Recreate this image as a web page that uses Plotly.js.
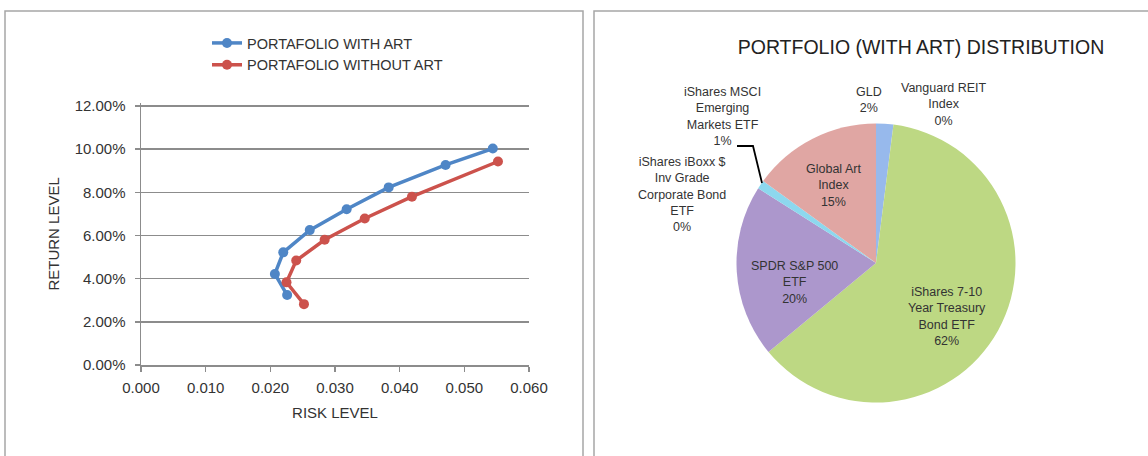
<!DOCTYPE html>
<html><head><meta charset="utf-8">
<script src="https://cdn.plot.ly/plotly-3.0.1.min.js"></script>
<style>html,body{margin:0;padding:0;background:#fff}#chart{width:1148px;height:456px}</style>
</head><body><div id="chart"></div>
<script>
// ---- data ----
const seriesNames = ['PORTAFOLIO WITH ART', 'PORTAFOLIO WITHOUT ART'];
const riskWithArt = [0.0226, 0.0207, 0.0220, 0.0261, 0.0318, 0.0383, 0.0471, 0.0544];
const returnWithArt = [0.0324, 0.0422, 0.0522, 0.0625, 0.0722, 0.0823, 0.0927, 0.1003];
const riskWithoutArt = [0.0252, 0.0225, 0.0240, 0.0284, 0.0346, 0.0419, 0.0552];
const returnWithoutArt = [0.0282, 0.0383, 0.0484, 0.0580, 0.0679, 0.0780, 0.0943];
const assetLabels = ['GLD', 'Vanguard REIT<br>Index', 'iShares 7-10<br>Year Treasury<br>Bond ETF', 'SPDR S&P 500<br>ETF',
  'iShares iBoxx &#36;<br>Inv Grade<br>Corporate Bond<br>ETF', 'iShares MSCI<br>Emerging<br>Markets ETF', 'Global Art<br>Index'];
const assetWeights = [2, 0, 62, 20, 0, 1, 15];
const pieTitle = 'PORTFOLIO (WITH ART) DISTRIBUTION';
const xTitle = 'RISK LEVEL';
const yTitle = 'RETURN LEVEL';

// ---- styling / layout helpers ----
const W = 1148, H = 456;
const px = x => x / W;
const py = y => 1 - y / H;
const FONT = 'Liberation Sans, Arial, sans-serif';
const TXT = '#333333';
const sliceColors = ['#97b9ec', '#d9837f', '#bdd883', '#ac97cc', '#8ed6ec', '#8dd8ee', '#e0a6a3'];
// label anchor points (pixels) for each slice's label
const labelPos = [[869, 100], [944, 104], [947, 316], [794, 282], [682, 194], [722, 117], [833, 185]];

const traces = [
  {type: 'scatter', mode: 'lines+markers', name: seriesNames[0], x: riskWithArt, y: returnWithArt,
   line: {color: '#4f86c6', width: 3.5}, marker: {color: '#4f86c6', size: 10}, xaxis: 'x', yaxis: 'y'},
  {type: 'scatter', mode: 'lines+markers', name: seriesNames[1], x: riskWithoutArt, y: returnWithoutArt,
   line: {color: '#cc524c', width: 3.5}, marker: {color: '#cc524c', size: 10}, xaxis: 'x', yaxis: 'y'},
  {type: 'pie', labels: assetLabels, values: assetWeights, sort: false, direction: 'clockwise', rotation: 0,
   showlegend: false, marker: {colors: sliceColors, line: {width: 0}},
   textinfo: 'none', hoverinfo: 'label+value',
   domain: {x: [px(876 - 139.5), px(876 + 139.5)], y: [py(263 + 139.5), py(263 - 139.5)]}}
];

const annotations = assetLabels.map((lab, i) => ({
  xref: 'paper', yref: 'paper', x: px(labelPos[i][0]), y: py(labelPos[i][1]), xanchor: 'center', yanchor: 'middle',
  showarrow: false, align: 'center', text: lab + '<br>' + assetWeights[i] + '%',
  font: {family: FONT, size: 12.5, color: TXT}
}));

const shapes = [
  {type: 'rect', xref: 'paper', yref: 'paper', x0: px(5), x1: px(583), y0: py(470), y1: py(11),
   line: {color: '#a6a6a6', width: 1.5}},
  {type: 'rect', xref: 'paper', yref: 'paper', x0: px(594), x1: px(1160), y0: py(470), y1: py(11),
   line: {color: '#a6a6a6', width: 1.5}},
  {type: 'path', xref: 'paper', yref: 'paper',
   path: `M ${px(737)},${py(146)} L ${px(753)},${py(146)} L ${px(762)},${py(183)}`,
   line: {color: '#000000', width: 1.8}}
];

const layout = {
  width: W, height: H, margin: {l: 0, r: 0, t: 0, b: 0},
  paper_bgcolor: '#ffffff', plot_bgcolor: '#ffffff',
  font: {family: FONT, color: TXT},
  title: {text: pieTitle, x: px(921), xref: 'paper', xanchor: 'center', y: py(47), yref: 'paper', yanchor: 'middle',
    font: {family: FONT, size: 19.5, color: '#222222'}},
  xaxis: {domain: [px(141), px(529)], range: [0, 0.06], dtick: 0.01, tickformat: '.3f',
    showgrid: false, zeroline: false, showline: true, linecolor: '#8c8c8c', linewidth: 1.5,
    ticks: 'outside', ticklen: 5, tickcolor: '#8c8c8c', tickwidth: 1.5, ticklabelstandoff: 3,
    tickfont: {family: FONT, size: 15, color: TXT},
    title: {text: xTitle, font: {family: FONT, size: 15, color: TXT}, standoff: 13}, fixedrange: true},
  yaxis: {domain: [py(365), py(102.8)], range: [0, 0.1215], tick0: 0, dtick: 0.02, tickformat: '.2%',
    showgrid: true, gridcolor: '#8c8c8c', gridwidth: 1.5, zeroline: false, showline: true, linecolor: '#8c8c8c', linewidth: 1.5,
    ticks: 'outside', ticklen: 5, tickcolor: '#8c8c8c', tickwidth: 1.5, ticklabelstandoff: 6,
    tickfont: {family: FONT, size: 15, color: TXT},
    title: {text: yTitle, font: {family: FONT, size: 15, color: TXT}, standoff: 11}, fixedrange: true},
  showlegend: true,
  legend: {x: px(207), xanchor: 'left', y: py(27), yanchor: 'top', bgcolor: 'rgba(0,0,0,0)',
    font: {family: FONT, size: 14.5, color: TXT}, tracegroupgap: 0, itemwidth: 30},
  annotations: annotations, shapes: shapes
};

Plotly.newPlot('chart', traces, layout, {displayModeBar: false, staticPlot: true});
</script></body></html>
